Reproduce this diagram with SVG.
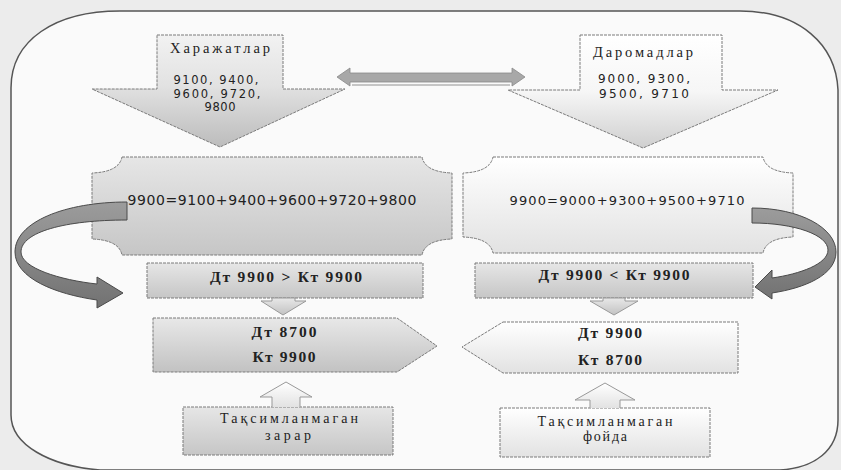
<svg xmlns="http://www.w3.org/2000/svg" width="841" height="470" viewBox="0 0 841 470">
<defs>
<linearGradient id="gL" x1="0" y1="0" x2="0" y2="1"><stop offset="0" stop-color="#e6e6e6"/><stop offset="1" stop-color="#c6c6c6"/></linearGradient>
<linearGradient id="gLh" x1="0" y1="0" x2="0" y2="1"><stop offset="0" stop-color="#f2f2f2"/><stop offset="0.45" stop-color="#e2e2e2"/><stop offset="1" stop-color="#bcbcbc"/></linearGradient>
<linearGradient id="gR" x1="0" y1="0" x2="0" y2="1"><stop offset="0" stop-color="#ffffff"/><stop offset="1" stop-color="#e2e2e2"/></linearGradient>
<linearGradient id="gRh" x1="0" y1="0" x2="0" y2="1"><stop offset="0" stop-color="#ffffff"/><stop offset="0.5" stop-color="#f6f6f6"/><stop offset="1" stop-color="#cfcfcf"/></linearGradient>
<linearGradient id="gC" x1="0" y1="0" x2="0" y2="1"><stop offset="0" stop-color="#9c9c9c"/><stop offset="1" stop-color="#727272"/></linearGradient>
<linearGradient id="gS" x1="0" y1="0" x2="0" y2="1"><stop offset="0" stop-color="#e8e8e8"/><stop offset="1" stop-color="#c2c2c2"/></linearGradient>
</defs>
<style>
.box{stroke:#7a7a7a;stroke-width:1;stroke-dasharray:3 1}
.sm{stroke:#999;stroke-width:1}
.cv{fill:url(#gC);stroke:#4a4a4a;stroke-width:1}
.serif{font-family:"Liberation Serif","DejaVu Serif",serif;fill:#222;text-anchor:middle}
.sans{font-family:"DejaVu Sans","Liberation Sans",sans-serif;fill:#222;text-anchor:middle}
</style>
<rect x="0" y="0" width="841" height="470" fill="#ececec"/>
<path d="M120,11 L740,11 C800,11 836,45 838,90 L838,420 C838,450 815,468 780,470 L100,470 C50,466 11,445 11,415 L11,88 C11,40 55,11 120,11 Z" fill="#fafafa" stroke="#555" stroke-width="1.5"/>

<g id="node-kharajatlar">
<path class="box" d="M157,35 L283,35 L283,89 L345,89 L220,147 L92,89 L157,89 Z" fill="url(#gLh)"/>
<text class="serif" x="220" y="53" font-size="14.5" textLength="100" lengthAdjust="spacing">Харажатлар</text>
<text class="sans" x="216" y="84" font-size="11.5" textLength="85" lengthAdjust="spacing">9100, 9400,</text>
<text class="sans" x="217" y="97.5" font-size="11.5" textLength="87" lengthAdjust="spacing">9600, 9720,</text>
<text class="sans" x="220" y="111" font-size="11.5" textLength="31" lengthAdjust="spacing">9800</text>
</g>

<g id="node-daromadlar">
<path class="box" d="M580,35 L722,35 L722,90 L778,90 L643,148 L508,90 L580,90 Z" fill="url(#gRh)"/>
<text class="serif" x="643" y="57" font-size="14.5" textLength="100" lengthAdjust="spacing">Даромадлар</text>
<text class="sans" x="644" y="83" font-size="12" textLength="92" lengthAdjust="spacing">9000, 9300,</text>
<text class="sans" x="644" y="98" font-size="12" textLength="90" lengthAdjust="spacing">9500, 9710</text>
</g>

<g id="node-sum-left">
<path class="box" d="M122,157 L422,157 Q425,172 452,173 L452,239 Q425,240 422,255 L122,255 Q119,240 92,239 L92,173 Q119,172 122,157 Z" fill="url(#gL)"/>
<text class="sans" x="272" y="205" font-size="14" textLength="289" lengthAdjust="spacing">9900=9100+9400+9600+9720+9800</text>
</g>

<g id="node-sum-right">
<path class="box" d="M493,157 L763,157 Q766,172 793,173 L793,237 Q766,238 763,253 L493,253 Q490,238 463,237 L463,173 Q490,172 493,157 Z" fill="url(#gR)"/>
<text class="sans" x="627" y="205" font-size="13" textLength="235" lengthAdjust="spacing">9900=9000+9300+9500+9710</text>
</g>

<g id="node-dt-gt">
<rect class="box" x="147" y="263" width="276" height="35" fill="url(#gL)"/>
<text class="serif" x="286" y="282" font-size="15.5" font-weight="bold" textLength="152" lengthAdjust="spacing">Дт 9900 &gt; Кт 9900</text>
</g>

<g id="node-dt-lt">
<rect class="box" x="475" y="263" width="278" height="35" fill="url(#gL)"/>
<text class="serif" x="614" y="280" font-size="15.5" font-weight="bold" textLength="151" lengthAdjust="spacing">Дт 9900 &lt; Кт 9900</text>
</g>

<g id="node-entry-loss">
<path class="box" d="M153,318 L397,318 L437,346 L397,372 L153,372 Z" fill="url(#gS)"/>
<text class="serif" x="284" y="337" font-size="15.5" font-weight="bold" textLength="65" lengthAdjust="spacing">Дт 8700</text>
<text class="serif" x="284" y="362" font-size="15.5" font-weight="bold" textLength="63" lengthAdjust="spacing">Кт 9900</text>
</g>

<g id="node-entry-profit">
<path class="box" d="M503,322 L738,322 L738,373 L503,373 L462,347 Z" fill="url(#gR)"/>
<text class="serif" x="610" y="338" font-size="15.5" font-weight="bold" textLength="64" lengthAdjust="spacing">Дт 9900</text>
<text class="serif" x="610" y="365" font-size="15.5" font-weight="bold" textLength="64" lengthAdjust="spacing">Кт 8700</text>
</g>

<g id="node-loss">
<rect class="box" x="183" y="407" width="210" height="48" fill="url(#gL)"/>
<text class="serif" x="289" y="423" font-size="14" textLength="138" lengthAdjust="spacing">Тақсимланмаган</text>
<text class="serif" x="288" y="440" font-size="14" textLength="46" lengthAdjust="spacing">зарар</text>
</g>

<g id="node-profit">
<rect class="box" x="500" y="408" width="210" height="49" fill="url(#gR)"/>
<text class="serif" x="605" y="426" font-size="14" textLength="135" lengthAdjust="spacing">Тақсимланмаган</text>
<text class="serif" x="605" y="441" font-size="14" textLength="44" lengthAdjust="spacing">фойда</text>
</g>

<g id="connectors">
<path d="M337,77 L350,68 L350,73 L512,73 L512,68 L525,77 L512,86 L512,82 L350,82 L350,86 Z" fill="#a8a8a8" stroke="#888" stroke-width="0.8"/>
<line x1="352" y1="85" x2="510" y2="85" stroke="#777" stroke-width="0.8"/>
<path class="cv" d="M127,202 C65,202 15,222 15,252 C15,278 55,294 97,300 L97,308 L123,293 L97,277 L97,284 C60,280 21,268 21,252 C21,232 65,220 127,220 Z"/>
<path class="cv" d="M752,208 C800,208 836,228 836,252 C836,275 805,288 772,293 L772,299 L755,287 L772,270 L772,278 C800,274 828,264 828,250 C828,235 795,223 752,223 Z"/>
<path class="sm" d="M272,298 L295,298 L295,301 L306,301 L283,315 L261,301 L272,301 Z" fill="url(#gS)"/>
<path class="sm" d="M603,298 L625,298 L625,301 L638,301 L614,315 L590,301 L603,301 Z" fill="url(#gS)"/>
<path class="sm" d="M272,407 L272,397 L260,397 L286,382 L312,397 L300,397 L300,407" fill="url(#gR)"/>
<path class="sm" d="M590,408 L590,400 L575,400 L605,383 L635,400 L620,400 L620,408" fill="url(#gR)"/>
</g>
</svg>
